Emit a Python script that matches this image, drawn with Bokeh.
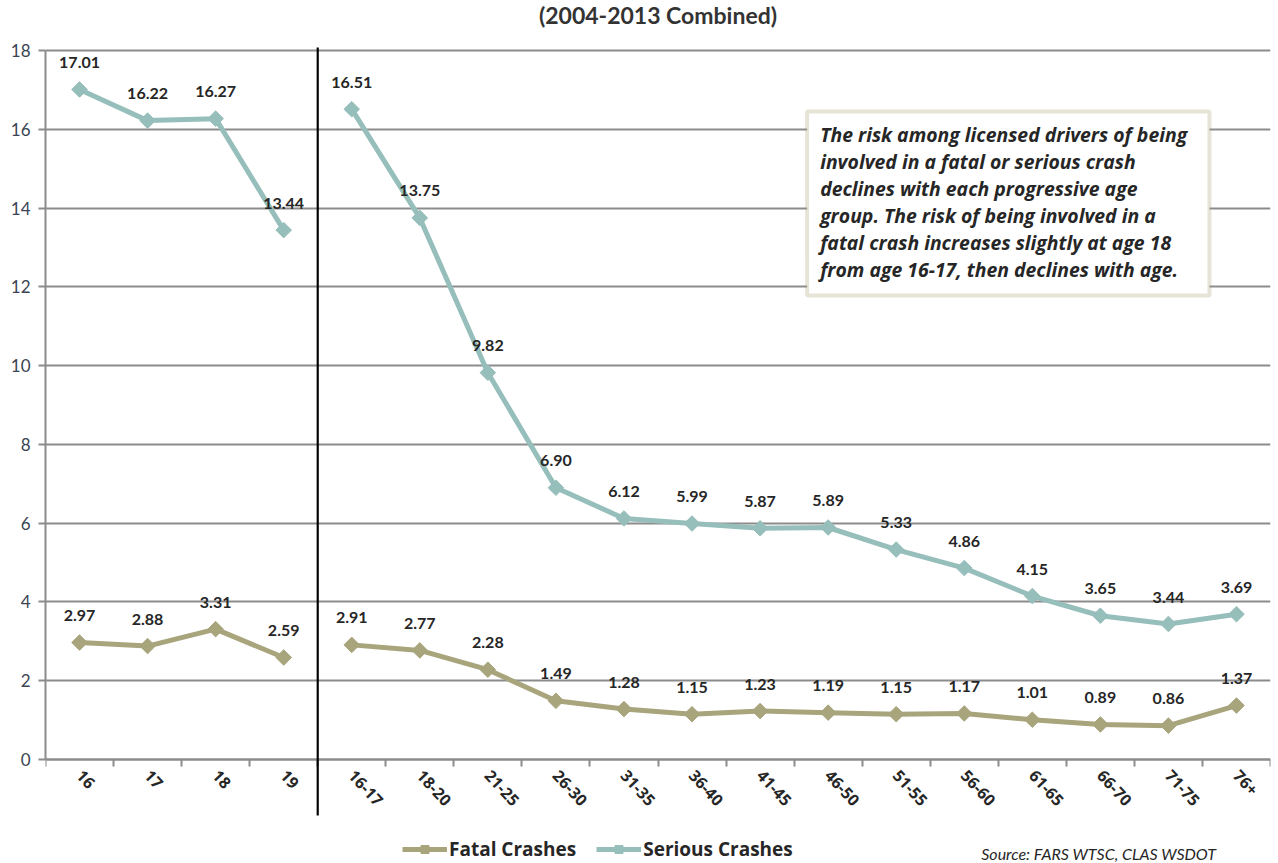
from bokeh.plotting import figure
from bokeh.models import (FixedTicker, Label, Legend, LegendItem, BoxAnnotation,
                          ColumnDataSource)
from bokeh.core.properties import value
from bokeh.embed import file_html
from bokeh.resources import INLINE

# ---------------- data ----------------
single_ages = ["16", "17", "18", "19"]
age_groups = ["16-17", "18-20", "21-25", "26-30", "31-35", "36-40", "41-45",
              "46-50", "51-55", "56-60", "61-65", "66-70", "71-75", "76+"]
fatal_single = [2.97, 2.88, 3.31, 2.59]
serious_single = [17.01, 16.22, 16.27, 13.44]
fatal_groups = [2.91, 2.77, 2.28, 1.49, 1.28, 1.15, 1.23, 1.19, 1.15, 1.17,
                1.01, 0.89, 0.86, 1.37]
serious_groups = [16.51, 13.75, 9.82, 6.90, 6.12, 5.99, 5.87, 5.89, 5.33, 4.86,
                  4.15, 3.65, 3.44, 3.69]
y_ticks = [0, 2, 4, 6, 8, 10, 12, 14, 16, 18]

title_text = "(2004-2013 Combined)"
note_text = ("The risk among licensed drivers of being\n"
             "involved in a fatal or serious crash\n"
             "declines with each progressive age\n"
             "group. The risk of being involved in a\n"
             "fatal crash increases slightly at age 18\n"
             "from age 16-17, then declines with age.")
source_text = "Source: FARS WTSC, CLAS WSDOT"

categories = single_ages + age_groups
xpos = {c: i + 1 for i, c in enumerate(categories)}

FATAL = "#A8A47C"
SERIOUS = "#96BEBB"
GRID = "#8C8C8C"
TXT = "#262626"
FONT = "Lato"

W, H = 1276, 862
PX = (759 - 50) / 18.0          # pixels per y unit
Y_MAX = 759 / PX
Y_MIN = -(H - 759) / PX

p = figure(width=W, height=H, x_range=(0.5, len(categories) + 0.5),
           y_range=(Y_MIN, Y_MAX), output_backend="svg", toolbar_location=None,
           min_border_left=45, min_border_right=W - 1270, min_border_top=0,
           min_border_bottom=0)
p.outline_line_color = None
p.background_fill_color = "white"
p.border_fill_color = "white"

# x axis sits at y = 0 inside the frame
p.xaxis.fixed_location = 0
p.xaxis.ticker = FixedTicker(ticks=[xpos[c] for c in categories],
                             minor_ticks=[i + 0.5 for i in range(len(categories) + 1)])
p.xaxis.major_label_overrides = {xpos[c]: c for c in categories}
p.xaxis.major_tick_in = 0
p.xaxis.major_tick_out = 0
p.xaxis.minor_tick_in = 0
p.xaxis.minor_tick_out = 7
p.xaxis.minor_tick_line_color = GRID
p.xaxis.minor_tick_line_width = 2
p.xaxis.axis_line_color = GRID
p.xaxis.axis_line_width = 2
p.xaxis.major_label_orientation = -0.82
p.xaxis.major_label_text_font = "Open Sans"
p.xaxis.major_label_text_font_style = "bold"
p.xaxis.major_label_text_font_size = "16px"
p.xaxis.major_label_text_color = TXT
p.xaxis.major_label_standoff = 6

p.yaxis.bounds = (0, 18)
p.yaxis.ticker = FixedTicker(ticks=y_ticks)
p.yaxis.major_tick_in = 0
p.yaxis.major_tick_out = 7
p.yaxis.major_tick_line_color = GRID
p.yaxis.major_tick_line_width = 2
p.yaxis.minor_tick_line_color = None
p.yaxis.axis_line_color = GRID
p.yaxis.axis_line_width = 2
p.yaxis.major_label_text_font = FONT
p.yaxis.major_label_text_font_size = "17px"
p.yaxis.major_label_text_color = "#3A4452"
p.yaxis.major_label_standoff = 8

p.xgrid.visible = False
p.ygrid.ticker = FixedTicker(ticks=y_ticks)
p.ygrid.grid_line_color = GRID
p.ygrid.grid_line_width = 2

# divider line between single ages and age groups
p.add_layout(BoxAnnotation(left=len(single_ages) + 0.5 - 0.016,
                           right=len(single_ages) + 0.5 + 0.016,
                           bottom=-(815 - 759) / PX, top=(759 - 47) / PX,
                           fill_color="black", fill_alpha=1, line_color=None))

def series(cats, vals, color):
    src = ColumnDataSource(dict(x=[xpos[c] for c in cats], y=vals,
                                lab=["%.2f" % v for v in vals]))
    ln = p.line("x", "y", source=src, line_color=color, line_width=5)
    mk = p.scatter("x", "y", source=src, marker="square", angle=0.785,
                   size=11, fill_color=color, line_color=color)
    p.text("x", "y", text="lab", source=src, y_offset=-27,
           text_align="center", text_baseline="middle",
           text_font=value(FONT), text_font_style="bold",
           text_font_size="16px", text_color=TXT)
    return ln, mk

f1 = series(single_ages, fatal_single, FATAL)
f2 = series(age_groups, fatal_groups, FATAL)
s1 = series(single_ages, serious_single, SERIOUS)
s2 = series(age_groups, serious_groups, SERIOUS)

# annotation box
def dx(px):
    return 0.5 + (px - 45) / 68.0

def dy(py):
    return (759 - py) / PX

p.add_layout(BoxAnnotation(left=dx(806), right=dx(1208), top=dy(111), bottom=dy(295),
                           fill_color="white", fill_alpha=1,
                           line_color=FATAL, line_width=4))
p.add_layout(Label(x=dx(819), y=dy(120), text=note_text, text_align="left",
                   text_baseline="top", text_font="Open Sans",
                   text_font_style="bold italic", text_font_size="19.4px",
                   text_color=TXT, text_line_height=1.0))

# title
p.add_layout(Label(x=dx(657), y=dy(0), text=title_text, text_align="center",
                   text_baseline="top", text_font=FONT,
                   text_font_style="bold", text_font_size="23px",
                   text_color="#333333"))

# source
p.add_layout(Label(x=dx(980), y=dy(843), text=source_text, text_align="left",
                   text_baseline="top", text_font=FONT,
                   text_font_style="italic", text_font_size="16px",
                   text_color=TXT))

legend = Legend(items=[LegendItem(label="Fatal Crashes", renderers=[f1[0], f1[1]]),
                       LegendItem(label="Serious Crashes", renderers=[s1[0], s1[1]])],
                orientation="horizontal", location=(357, 0),
                glyph_width=45, glyph_height=20, label_standoff=2, spacing=20,
                padding=0, margin=0, border_line_color=None,
                background_fill_alpha=0, label_text_font="Open Sans",
                label_text_font_style="bold", label_text_font_size="19px",
                label_text_color=TXT)
p.add_layout(legend)

open("out.html", "w").write(file_html(p, INLINE))
